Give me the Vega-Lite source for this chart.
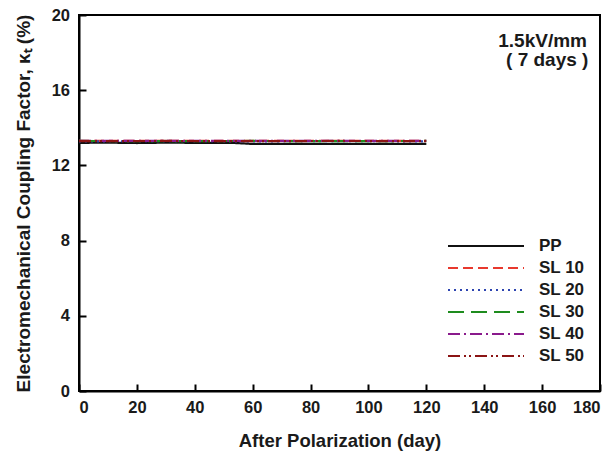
{
  "$schema": "https://vega.github.io/schema/vega-lite/v6.json",
  "width": 521,
  "height": 376,
  "autosize": {"type": "none"},
  "padding": {"left": 79, "top": 15, "right": 12, "bottom": 63},
  "config": {
    "font": "Liberation Sans",
    "view": {"stroke": "black", "strokeWidth": 2},
    "axis": {
      "grid": false,
      "domainColor": "black",
      "domainWidth": 2,
      "tickColor": "black",
      "tickWidth": 2,
      "tickSize": -7,
      "labelFont": "Liberation Sans",
      "labelFontWeight": "bold",
      "labelFontSize": 16.5,
      "labelColor": "#1a1a1a",
      "titleFont": "Liberation Sans",
      "titleFontWeight": "bold",
      "titleFontSize": 18.5,
      "titleColor": "#1a1a1a"
    }
  },
  "datasets": {
    "series": [
      {"day": 0, "kt": 13.20, "sample": "PP"},
      {"day": 10, "kt": 13.21, "sample": "PP"},
      {"day": 20, "kt": 13.19, "sample": "PP"},
      {"day": 30, "kt": 13.21, "sample": "PP"},
      {"day": 40, "kt": 13.20, "sample": "PP"},
      {"day": 53, "kt": 13.20, "sample": "PP"},
      {"day": 59, "kt": 13.15, "sample": "PP"},
      {"day": 70, "kt": 13.15, "sample": "PP"},
      {"day": 80, "kt": 13.15, "sample": "PP"},
      {"day": 90, "kt": 13.15, "sample": "PP"},
      {"day": 100, "kt": 13.15, "sample": "PP"},
      {"day": 110, "kt": 13.15, "sample": "PP"},
      {"day": 120, "kt": 13.15, "sample": "PP"},
      {"day": 0, "kt": 13.30, "sample": "SL 10"},
      {"day": 30, "kt": 13.31, "sample": "SL 10"},
      {"day": 60, "kt": 13.30, "sample": "SL 10"},
      {"day": 90, "kt": 13.31, "sample": "SL 10"},
      {"day": 120, "kt": 13.30, "sample": "SL 10"},
      {"day": 0, "kt": 13.28, "sample": "SL 20"},
      {"day": 30, "kt": 13.29, "sample": "SL 20"},
      {"day": 60, "kt": 13.28, "sample": "SL 20"},
      {"day": 90, "kt": 13.29, "sample": "SL 20"},
      {"day": 120, "kt": 13.28, "sample": "SL 20"},
      {"day": 0, "kt": 13.30, "sample": "SL 30"},
      {"day": 30, "kt": 13.29, "sample": "SL 30"},
      {"day": 60, "kt": 13.30, "sample": "SL 30"},
      {"day": 90, "kt": 13.29, "sample": "SL 30"},
      {"day": 120, "kt": 13.30, "sample": "SL 30"},
      {"day": 0, "kt": 13.31, "sample": "SL 40"},
      {"day": 30, "kt": 13.30, "sample": "SL 40"},
      {"day": 60, "kt": 13.31, "sample": "SL 40"},
      {"day": 90, "kt": 13.30, "sample": "SL 40"},
      {"day": 120, "kt": 13.31, "sample": "SL 40"},
      {"day": 0, "kt": 13.29, "sample": "SL 50"},
      {"day": 30, "kt": 13.30, "sample": "SL 50"},
      {"day": 60, "kt": 13.29, "sample": "SL 50"},
      {"day": 90, "kt": 13.30, "sample": "SL 50"},
      {"day": 120, "kt": 13.29, "sample": "SL 50"}
    ],
    "notes": [
      {"x": 175.5, "y": 18.6, "label": "1.5kV/mm"},
      {"x": 176, "y": 17.58, "label": "( 7 days )"}
    ]
  },
  "layer": [
    {
      "data": {"name": "series"},
      "mark": {"type": "line", "strokeWidth": 2.2},
      "encoding": {
        "x": {
          "field": "day",
          "type": "quantitative",
          "scale": {"domain": [0, 180], "nice": false},
          "axis": {"values": [0, 20, 40, 60, 80, 100, 120, 140, 160, 180], "title": "After Polarization (day)", "labelPadding": 15, "titlePadding": 16}
        },
        "y": {
          "field": "kt",
          "type": "quantitative",
          "scale": {"domain": [0, 20], "nice": false},
          "axis": {"values": [0, 4, 8, 12, 16, 20], "title": "Electromechanical Coupling Factor, κₜ (%)", "labelPadding": 16.5, "titlePadding": 18, "titleFontSize": 19}
        },
        "color": {
          "field": "sample",
          "type": "nominal",
          "sort": ["PP", "SL 10", "SL 20", "SL 30", "SL 40", "SL 50"],
          "scale": {
            "domain": ["PP", "SL 10", "SL 20", "SL 30", "SL 40", "SL 50"],
            "range": ["#111111", "#e8392e", "#2d44b0", "#1e8c1e", "#8a1a8c", "#8b1414"]
          },
          "legend": {
            "title": null,
            "orient": "none",
            "legendX": 396,
            "legendY": 220,
            "symbolType": "M-4,0H4",
            "symbolSize": 361,
            "symbolStrokeWidth": 2.2,
            "labelFont": "Liberation Sans",
            "labelFontWeight": "bold",
            "labelFontSize": 17,
            "labelColor": "#1a1a1a",
            "labelOffset": 42,
            "rowPadding": 3,
            "padding": 0
          }
        },
        "strokeDash": {
          "field": "sample",
          "type": "nominal",
          "sort": ["PP", "SL 10", "SL 20", "SL 30", "SL 40", "SL 50"],
          "scale": {
            "domain": ["PP", "SL 10", "SL 20", "SL 30", "SL 40", "SL 50"],
            "range": [[1, 0], [10, 5], [2, 4], [16, 7], [12, 4, 2, 4], [12, 4, 2, 3, 2, 4]]
          },
          "legend": null
        },
        "order": {"field": "day", "type": "quantitative"}
      }
    },
    {
      "data": {"name": "notes"},
      "mark": {"type": "text", "align": "right", "baseline": "middle", "font": "Liberation Sans", "fontWeight": "bold", "fontSize": 19, "color": "#1a1a1a"},
      "encoding": {
        "x": {"field": "x", "type": "quantitative"},
        "y": {"field": "y", "type": "quantitative"},
        "text": {"field": "label", "type": "nominal"}
      }
    }
  ]
}
